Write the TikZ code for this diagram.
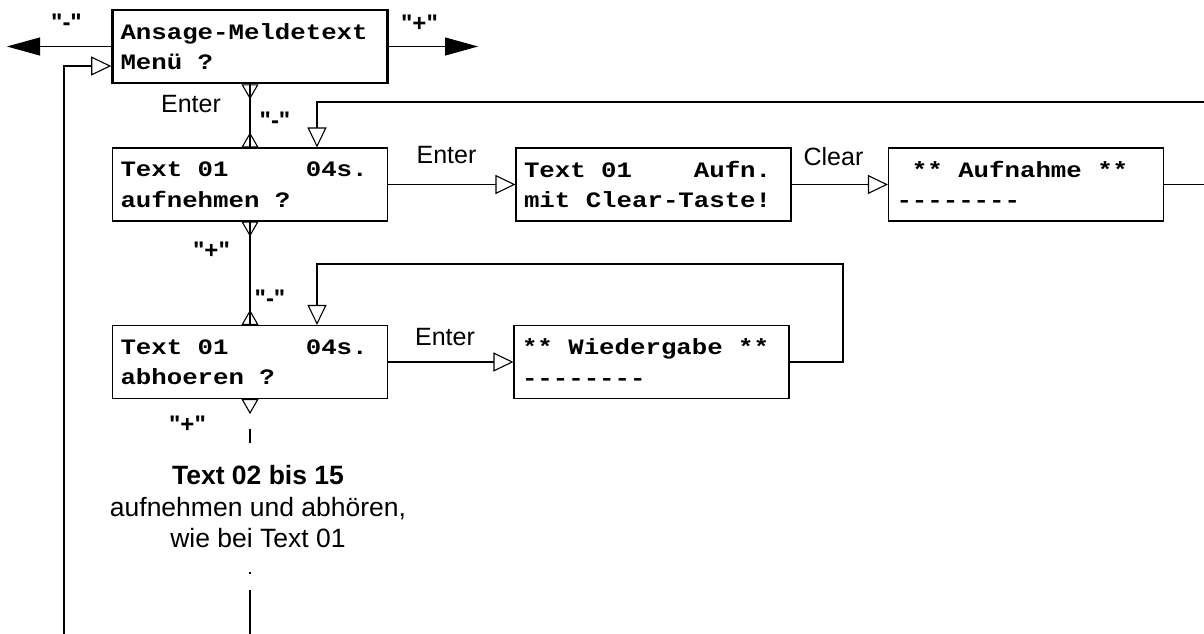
\documentclass[tikz,border=0pt]{standalone}
\usepackage{fontspec}
\setmainfont{Liberation Sans}
\newfontfamily\lcdfont[FakeStretch=1.17, Ligatures=TeXOff]{Liberation Mono}
\newfontfamily\qfont[Ligatures=TeXOff]{Liberation Sans}
\newcommand\lsp{\hphantom{x}}
\usetikzlibrary{arrows.meta}
\begin{document}
\begin{tikzpicture}[x=1pt,y=-1pt,
  lcdbox/.style={draw, line width=1.1pt, minimum width=275pt, minimum height=73pt,
    text width=259pt, inner xsep=8pt, inner ysep=0pt, align=left,
    font=\lcdfont\bfseries\fontsize{22}{30.5}\selectfont},
  mainbox/.style={lcdbox, line width=2.6pt},
  lab/.style={inner sep=0pt, font=\fontsize{25}{30}\selectfont},
  qlab/.style={inner sep=0pt, text depth=0pt, font=\qfont\bfseries\fontsize{24}{28}\selectfont},
  note/.style={inner sep=0pt, align=center, font=\fontsize{26.5}{31.5}\selectfont},
  conn/.style={line width=1.1pt},
  otip/.style={conn, -{Triangle[open, length=20pt, width=19pt]}},
  ftip/.style={conn, -{Triangle[length=33pt, width=18pt]}},
  rtips/.style={conn, {Triangle[open, reversed, length=15pt, width=17pt]}-{Triangle[open, reversed, length=15pt, width=17pt]}},
  rtip/.style={conn, {Triangle[open, reversed, length=15pt, width=17pt]}-}
]
\useasboundingbox (0,0) rectangle (1204,634);

% boxes
\node[mainbox] (b1) at (250,46.5) {Ansage-Meldetext\\Menü\lsp?};
\node[lcdbox] (b2) at (250,184.5) {Text\lsp01\lsp\lsp\lsp\lsp\lsp04s.\\aufnehmen\lsp?};
\node[lcdbox] (b3) at (250,362) {Text\lsp01\lsp\lsp\lsp\lsp\lsp04s.\\abhoeren\lsp?};
\node[lcdbox] (aufn) at (653.5,184.5) {Text\lsp01\lsp\lsp\lsp\lsp Aufn.\\mit\lsp Clear-Taste!};
\node[lcdbox] (aufnahme) at (1026,184.5) {\lsp**\lsp Aufnahme\lsp**\\--------};
\node[lcdbox] (wieder) at (651.5,362) {**\lsp Wiedergabe\lsp**\\--------};

% free ends
\coordinate (la) at (7,46.5);
\coordinate (ra) at (478,46.5);
\coordinate (lb) at (64,634);
\coordinate (tr) at (1204,102);
\coordinate (ar) at (1204,184.5);
\coordinate (lp2) at (843,264);
\coordinate (v1) at (250,412);
\coordinate (s1) at (250,429);
\coordinate (s2) at (250,443);
\coordinate (d1) at (250,572);
\coordinate (d2) at (250,574);
\coordinate (s3) at (250,590);
\coordinate (s4) at (250,634);

% connectors
\draw[ftip] (b1.west) -- (la);
\draw[ftip] (b1.east) -- (ra);
\draw[otip] (lb) |- ([yshift=-19.5pt]b1.west);
\draw[conn] (b1.south) -- (b2.north);
\draw[rtips] (b1.south) -- (b2.north);
\draw[conn] (b2.south) -- (b3.north);
\draw[rtips] (b2.south) -- (b3.north);
\draw[rtip] (b3.south) -- (v1);
\draw[otip] (b2.east) -- (aufn.west);
\draw[otip] (aufn.east) -- (aufnahme.west);
\draw[conn] (aufnahme.east) -- (ar);
\draw[otip] (tr) -| ([xshift=67pt]b2.north);
\draw[otip] (b3.east) -- (wieder.west);
\draw[otip] (wieder.east) -| (lp2) -| ([xshift=67pt]b3.north);
\draw[conn] (s1) -- (s2);
\draw[conn] (d1) -- (d2);
\draw[conn] (s3) -- (s4);

% labels
\node[qlab] (qm1) at (66.5,22.5) {"-"};
\node[qlab] (qp1) at (419.5,23) {"+"};
\node[lab] (en1) at (191,104) {Enter};
\node[qlab] (qm2) at (275,120) {"-"};
\node[qlab] (qp2) at (211.5,250) {"+"};
\node[qlab] (qm3) at (270,298) {"-"};
\node[qlab] (qp3) at (187.5,424) {"+"};
\node[lab] (en2) at (446.5,155) {Enter};
\node[lab] (cl) at (833.5,157) {Clear};
\node[lab] (en3) at (445,337) {Enter};
\node[note] (nt) at (258,507) {\textbf{Text 02 bis 15}\\aufnehmen und abhören,\\wie bei Text 01};
\end{tikzpicture}
\end{document}
